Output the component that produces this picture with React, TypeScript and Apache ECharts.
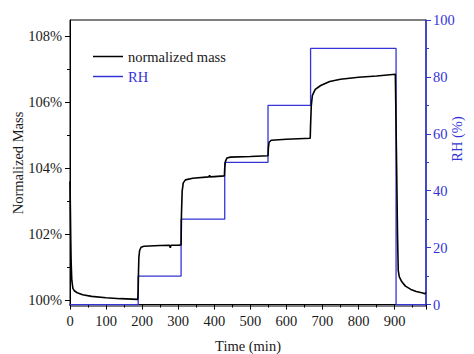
import React, { useEffect, useRef } from "react";
import * as echarts from "echarts";

// Normalized mass curve (time in min, mass in %)
const massTime = [0, 1, 2, 3, 5, 8, 12, 20, 35, 60, 100, 140, 188, 189, 190, 191, 193, 197, 205, 250, 276, 278, 280, 300, 308, 309, 311, 314, 320, 340, 385, 387, 389, 400, 428, 429, 431, 435, 445, 500, 549, 550, 552, 558, 600, 666, 667, 669, 672, 680, 695, 720, 750, 800, 850, 902, 905, 908, 910, 913, 920, 930, 945, 960, 978, 984, 987];
const massValue = [103.6, 102.8, 101.9, 101.2, 100.6, 100.35, 100.28, 100.22, 100.16, 100.11, 100.07, 100.04, 100.02, 100.3, 100.9, 101.3, 101.5, 101.6, 101.63, 101.65, 101.66, 101.58, 101.66, 101.66, 101.67, 102.6, 103.3, 103.55, 103.64, 103.69, 103.73, 103.78, 103.73, 103.74, 103.76, 104.0, 104.2, 104.3, 104.33, 104.35, 104.37, 104.6, 104.78, 104.84, 104.87, 104.9, 105.3, 105.9, 106.2, 106.38, 106.5, 106.62, 106.69, 106.75, 106.79, 106.84, 104.5, 102.0, 100.9, 100.7, 100.55, 100.42, 100.32, 100.26, 100.21, 100.19, 100.23];

// Relative humidity steps (time in min, RH in %)
const rhTime = [0, 189, 189, 308, 308, 429, 429, 549, 549, 667, 667, 904, 904, 987];
const rhValue = [0, 0, 10, 10, 30, 30, 50, 50, 70, 70, 90, 90, 0, 0];

const xTicks = [0, 100, 200, 300, 400, 500, 600, 700, 800, 900];
const massMajorTicks = [100, 102, 104, 106, 108];
const massMinorTicks = [101, 103, 105, 107];
const rhMajorTicks = [0, 20, 40, 60, 80, 100];
const rhMinorTicks = [10, 30, 50, 70, 90];

const FONT = "'Liberation Serif', 'DejaVu Serif', 'Times New Roman', serif";
const BLUE = "#3434d8";
const TEXT = "#1a1a1a";

export default function App() {
  const ref = useRef<HTMLDivElement>(null);
  useEffect(() => {
    if (!ref.current) return;
    const chart = echarts.init(ref.current, undefined, { renderer: "svg" });
    const massData = massTime.map((t, i) => [t, massValue[i]]);
    const rhData = rhTime.map((t, i) => [t, rhValue[i]]);
    const gridRect = { left: 70, right: 48, top: 20, bottom: 48 };
    chart.setOption({
      animation: false,
      textStyle: { fontFamily: FONT },
      grid: [
        { ...gridRect, show: true, borderColor: "#000", borderWidth: 1, backgroundColor: "transparent" },
        { ...gridRect, show: false },
      ],
      legend: {
        left: 88,
        top: 44,
        orient: "vertical",
        icon: "rect",
        itemWidth: 30,
        itemHeight: 1.5,
        itemGap: 5,
        textStyle: { fontFamily: FONT, fontSize: 14.5, color: TEXT },
        data: [
          { name: "normalized mass", textStyle: { color: TEXT, fontFamily: FONT } },
          { name: "RH", textStyle: { color: BLUE, fontFamily: FONT } },
        ],
      },
      xAxis: [
        {
          type: "value",
          gridIndex: 0,
          min: 0,
          max: 987,
          interval: 100,
          axisLine: { show: true, lineStyle: { color: "#000", width: 1 } },
          axisTick: { show: true, length: 5, lineStyle: { color: "#000" } },
          minorTick: { show: true, splitNumber: 2, length: 3, lineStyle: { color: "#000" } },
          splitLine: { show: false },
          axisLabel: {
            customValues: xTicks,
            color: TEXT,
            fontFamily: FONT,
            fontSize: 14.5,
            margin: 7,
          },
        },
        {
          type: "value",
          gridIndex: 1,
          min: 0,
          max: 987,
          show: false,
        },
      ],
      yAxis: [
        {
          type: "value",
          gridIndex: 0,
          position: "left",
          min: 99.818,
          max: 108.485,
          axisLine: { show: true, lineStyle: { color: "#000", width: 1 } },
          axisTick: { show: true, customValues: massMajorTicks, length: 5, lineStyle: { color: "#000" } },
          splitLine: { show: false },
          axisLabel: {
            customValues: massMajorTicks,
            formatter: (v: number) => `${Math.round(v)}%`,
            color: TEXT,
            fontFamily: FONT,
            fontSize: 14.5,
            margin: 8,
          },
        },
        {
          type: "value",
          gridIndex: 0,
          position: "right",
          min: -0.5,
          max: 100,
          axisLine: { show: true, lineStyle: { color: BLUE, width: 1.5 } },
          axisTick: { show: true, customValues: rhMajorTicks, length: 5, lineStyle: { color: BLUE } },
          splitLine: { show: false },
          axisLabel: {
            customValues: rhMajorTicks,
            color: BLUE,
            fontFamily: FONT,
            fontSize: 14.5,
            margin: 7,
          },
        },
        {
          type: "value",
          gridIndex: 1,
          position: "left",
          min: 99.818,
          max: 108.485,
          axisLine: { show: false },
          axisTick: { show: true, customValues: massMinorTicks, length: 3, lineStyle: { color: "#000" } },
          axisLabel: { show: false },
          splitLine: { show: false },
        },
        {
          type: "value",
          gridIndex: 1,
          position: "right",
          min: -0.5,
          max: 100,
          axisLine: { show: false },
          axisTick: { show: true, customValues: rhMinorTicks, length: 3, lineStyle: { color: BLUE } },
          axisLabel: { show: false },
          splitLine: { show: false },
        },
      ],
      series: [
        {
          name: "normalized mass",
          type: "line",
          xAxisIndex: 0,
          yAxisIndex: 0,
          data: massData,
          showSymbol: false,
          symbol: "none",
          smooth: false,
          lineStyle: { color: "#000", width: 1.6 },
          itemStyle: { color: "#000" },
          z: 3,
        },
        {
          name: "RH",
          type: "line",
          xAxisIndex: 0,
          yAxisIndex: 1,
          data: rhData,
          showSymbol: false,
          symbol: "none",
          lineStyle: { color: BLUE, width: 1.3 },
          itemStyle: { color: BLUE },
          z: 2,
        },
      ],
      graphic: [
        {
          type: "text",
          x: 18,
          y: 163,
          rotation: Math.PI / 2,
          style: {
            text: "Normalized Mass",
            fontFamily: FONT,
            fontSize: 14.5,
            fill: TEXT,
            align: "center",
            verticalAlign: "middle",
          },
        },
        {
          type: "text",
          x: 457,
          y: 139,
          rotation: Math.PI / 2,
          style: {
            text: "RH (%)",
            fontFamily: FONT,
            fontSize: 14.5,
            fill: BLUE,
            align: "center",
            verticalAlign: "middle",
          },
        },
        {
          type: "text",
          x: 248,
          y: 346,
          style: {
            text: "Time (min)",
            fontFamily: FONT,
            fontSize: 14.5,
            fill: TEXT,
            align: "center",
            verticalAlign: "middle",
          },
        },
      ],
    });
    return () => chart.dispose();
  }, []);
  return <div ref={ref} style={{ width: 474, height: 354, position: "absolute", left: 0, top: 0 }} />;
}
